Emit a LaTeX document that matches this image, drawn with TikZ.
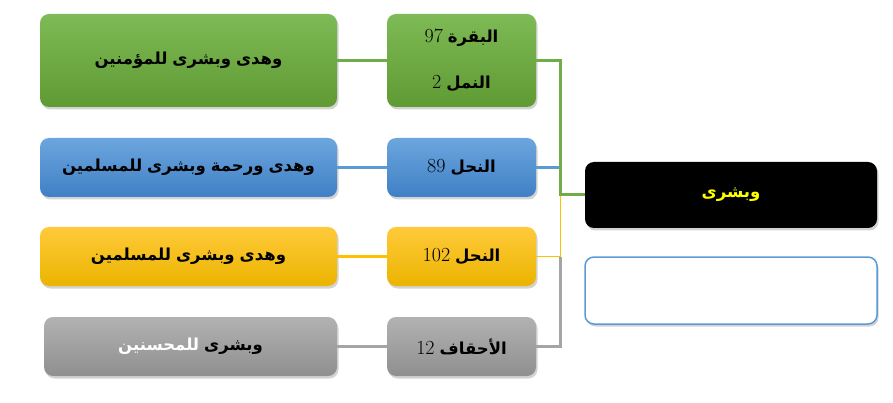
\documentclass[tikz,border=0pt]{standalone}
\usepackage{fontspec}
\newfontfamily\arabicfont[Script=Arabic]{DejaVu Sans}
\TeXXeTstate=1
\usetikzlibrary{shadows}
\definecolor{gtop}{HTML}{7EBA55}\definecolor{gbot}{HTML}{5F9A33}
\definecolor{btop}{HTML}{6CA6DE}\definecolor{bbot}{HTML}{3F7FC5}
\definecolor{ytop}{HTML}{FFCA3A}\definecolor{ybot}{HTML}{EBB400}
\definecolor{rtop}{HTML}{B2B2B2}\definecolor{rbot}{HTML}{8F8F8F}
\definecolor{gline}{HTML}{70AD47}\definecolor{bline}{HTML}{5B9BD5}
\definecolor{yline}{HTML}{FFC000}\definecolor{rline}{HTML}{A5A5A5}
\definecolor{txtyellow}{HTML}{FFFF00}
\newcommand{\ar}[1]{\hbox{\arabicfont\bfseries #1}}
\newcommand{\nm}[1]{\hbox{\rmfamily\mdseries\fontsize{20}{20}\selectfont #1}}
\tikzset{
  box/.style={rounded corners=9pt, inner sep=0pt, align=center,
    drop shadow={opacity=0.35, shadow xshift=1.5pt, shadow yshift=-2.5pt},
    font=\fontsize{16.5}{46}\selectfont},
  gbox/.style={box, top color=gtop, bottom color=gbot},
  bbox/.style={box, top color=btop, bottom color=bbot},
  ybox/.style={box, top color=ytop, bottom color=ybot},
  rbox/.style={box, top color=rtop, bottom color=rbot},
  gl/.style={draw=gline, line width=3pt},
  bl/.style={draw=bline, line width=3pt},
  yl/.style={draw=yline, line width=3pt},
  ylthin/.style={draw=yline, line width=1pt},
  rl/.style={draw=rline, line width=3pt},
}
\begin{document}
\begin{tikzpicture}[x=1pt,y=-1pt]
\useasboundingbox (0,0) rectangle (893,403);
% left boxes
\node[gbox, minimum width=297pt, minimum height=93pt] (gL) at (188.5,60.5) {\beginR\ar{وهدى} \ar{وبشرى} \ar{للمؤمنين}\endR};
\node[bbox, minimum width=297pt, minimum height=59pt] (bL) at (188.5,167.5) {\beginR\ar{وهدى} \ar{ورحمة} \ar{وبشرى} \ar{للمسلمين}\endR};
\node[ybox, minimum width=297pt, minimum height=59pt] (yL) at (188.5,256.5) {\beginR\ar{وهدى} \ar{وبشرى} \ar{للمسلمين}\endR};
\node[rbox, minimum width=293pt, minimum height=59pt] (rL) at (190.5,346.5) {\textcolor{white}{\ar{للمحسنين}} \textcolor{black}{\ar{وبشرى}}};
% small boxes
\node[gbox, minimum width=149pt, minimum height=93pt] (gS) at (461.5,60.5) {\beginR\ar{البقرة} \nm{97}\endR\\\beginR\ar{النمل} \nm{2}\endR};
\node[bbox, minimum width=149pt, minimum height=59pt] (bS) at (461.5,167.5) {\beginR\ar{النحل} \nm{89}\endR};
\node[ybox, minimum width=149pt, minimum height=59pt] (yS) at (461.5,256.5) {\beginR\ar{النحل} \nm{102}\endR};
\node[rbox, minimum width=149pt, minimum height=59pt] (rS) at (461.5,346.5) {\beginR\ar{الأحقاف} \nm{12}\endR};
% right boxes
\node[box, fill=black, text=txtyellow, minimum width=292pt, minimum height=66pt] (main) at (731,195) {\beginR\ar{وبشرى}\endR};
\node[box, draw=bline, line width=1.5pt, fill=white, drop shadow={opacity=0}, minimum width=292pt, minimum height=67pt] (empty) at (731,290.5) {};
% connectors
\coordinate (bus) at (560,195);
\draw[gl] (gL.east) -- (gS.west);
\draw[bl] (bL.east) -- (bS.west);
\draw[yl] (yL.east) -- (yS.west);
\draw[rl] (rL.east) -- (rS.west);
\draw[rl] (rS.east) -| (yS.east -| bus);
\draw[ylthin] (yS.east) -| (bus);
\draw[bl] (bS.east) -- (bS.east -| bus);
\draw[gl] (gS.east) -| (bus) -- (main.west);
\end{tikzpicture}
\end{document}
